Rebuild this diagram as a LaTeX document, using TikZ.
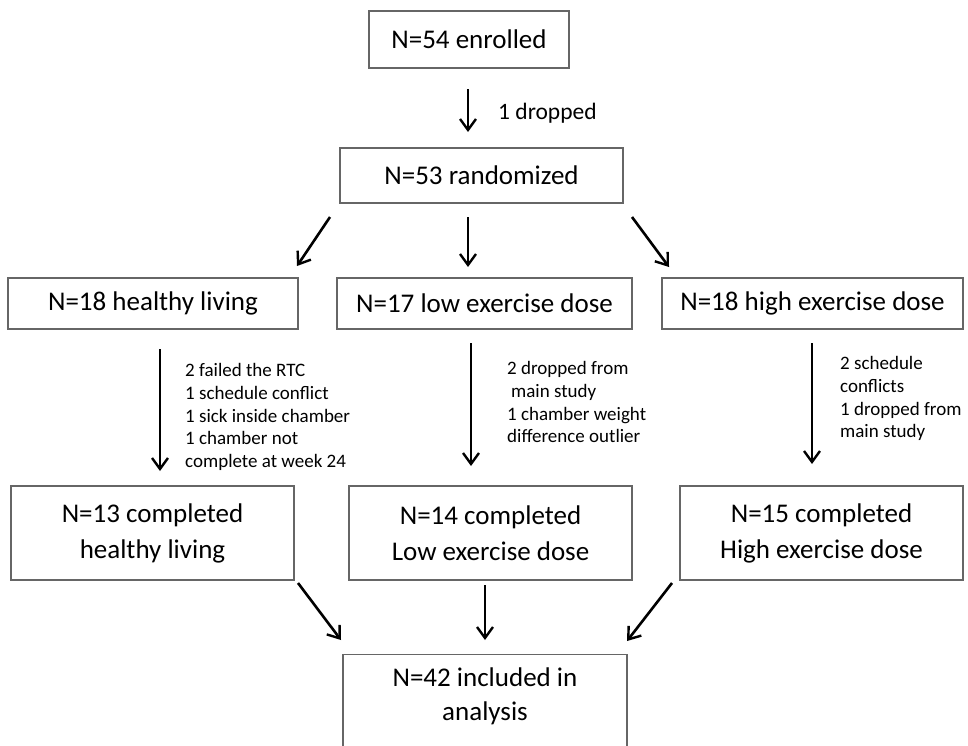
\documentclass[tikz,border=0pt]{standalone}
\usepackage{fontspec}
\setmainfont{Carlito}
\usetikzlibrary{arrows.meta}
\begin{document}
\begin{tikzpicture}[x=1pt,y=-1pt,
  box/.style={draw=black!60,line width=1.4pt,fill=white,inner sep=0pt,align=center,font=\fontsize{27}{36}\selectfont},
  boxtext/.style={inner sep=0pt,align=center,font=\fontsize{27}{34}\selectfont},
  arr/.style={line width=2.6pt,-{Straight Barb[length=11pt,width=16pt,line width=2.4pt]}},
  note/.style={align=left,anchor=north west,inner sep=0pt,font=\fontsize{19}{22.8}\selectfont}]
\useasboundingbox (0,0) rectangle (968,745);
\clip (0,0) rectangle (968,745);
\node[box,minimum width=200pt,minimum height=57pt] (enr) at (469,39.5) {N=54 enrolled};
\node[box,minimum width=283pt,minimum height=55pt] (rand) at (481.5,175.5) {N=53 randomized};
\node[box,minimum width=290pt,minimum height=51pt] (hl) at (153,303.5) {N=18 healthy living};
\node[box,minimum width=295pt,minimum height=51pt] (lo) at (484.5,303.5) {N=17 low exercise dose};
\node[box,minimum width=301pt,minimum height=51pt] (hi) at (812.5,303.5) {N=18 high exercise dose};
\node[box,minimum width=283pt,minimum height=94pt] (chl) at (152.5,533) {N=13 completed\\healthy living};
\node[box,minimum width=283pt,minimum height=94pt] (clo) at (490.5,533) {N=14 completed\\Low exercise dose};
\node[box,minimum width=283pt,minimum height=94pt] (chi) at (821.5,533) {N=15 completed\\High exercise dose};
\node[box,minimum width=284pt,minimum height=110pt,anchor=north] (ana) at (485,654) {};
\node[boxtext] (anat) at (485,696) {N=42 included in\\analysis};

\coordinate (a1s) at (468,89); \coordinate (a1e) at (468,132);
\draw[arr] (a1s) -- (a1e);
\node[anchor=west,inner sep=0pt,font=\fontsize{23.5}{25}\selectfont] (drop) at (498,113) {1 dropped};

\coordinate (r1s) at (330,217); \coordinate (r1e) at (297,266);
\coordinate (r2s) at (468,217); \coordinate (r2e) at (468,267);
\coordinate (r3s) at (632,217); \coordinate (r3e) at (669,267);
\draw[arr] (r1s) -- (r1e);
\draw[arr] (r2s) -- (r2e);
\draw[arr] (r3s) -- (r3e);

\coordinate (h1s) at (160,349); \coordinate (h1e) at (160,471);
\coordinate (l1s) at (471,343); \coordinate (l1e) at (471,466);
\coordinate (g1s) at (812,343); \coordinate (g1e) at (812,464);
\draw[arr] (h1s) -- (h1e);
\draw[arr] (l1s) -- (l1e);
\draw[arr] (g1s) -- (g1e);

\node[note] (nhl) at (185,363) {2 failed the RTC\\1 schedule conflict\\1 sick inside chamber\\1 chamber not\\complete at week 24};
\node[note] (nlo) at (507,361) {2 dropped from\\\hspace{4pt}main study\\1 chamber weight\\difference outlier};
\node[note] (nhi) at (840,356) {2 schedule\\conflicts\\1 dropped from\\main study};

\coordinate (c1s) at (298,583); \coordinate (c1e) at (341,640);
\coordinate (c2s) at (485,585); \coordinate (c2e) at (485,640);
\coordinate (c3s) at (672,583); \coordinate (c3e) at (627,641);
\draw[arr] (c1s) -- (c1e);
\draw[arr] (c2s) -- (c2e);
\draw[arr] (c3s) -- (c3e);
\end{tikzpicture}
\end{document}
